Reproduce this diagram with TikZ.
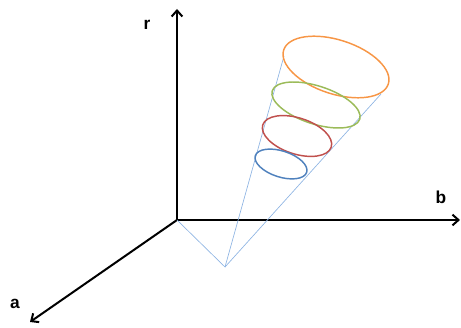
\documentclass[tikz,border=0pt]{standalone}
\usepackage{fontspec}
\setsansfont{Liberation Sans}
\usetikzlibrary{arrows.meta}
\definecolor{conelin}{HTML}{8EB4E3}
\definecolor{orng}   {HTML}{F79646}
\definecolor{grn}    {HTML}{9BBB59}
\definecolor{rd}     {HTML}{C0504D}
\definecolor{blu}    {HTML}{4F81BD}

\begin{document}
\begin{tikzpicture}[x=0.75pt,y=0.75pt,
    axis/.style={line width=1.5pt,-{Straight Barb[length=4.5pt,width=8pt]}},
    lbl/.style={font=\sffamily\bfseries\fontsize{13}{15}\selectfont,inner sep=0pt},
    ring/.style={line width=1.1pt,draw=#1}]
  \useasboundingbox (0,0) rectangle (461,328);
  % axes
  \coordinate (O)    at (177,108);
  \coordinate (rtip) at (177,319);
  \coordinate (btip) at (460,108);
  \coordinate (atip) at (30,6);
  \draw[axis] (O) -- (rtip);
  \draw[axis] (O) -- (btip);
  \draw[axis] (O) -- (atip);
  \node[lbl] (rlab) at (147,303) {r};
  \node[lbl] (blab) at (441,131) {b};
  \node[lbl] (alab) at (15,24) {a};
  % cone
  \coordinate (apex)  at (225,61);
  \coordinate (cleft) at (284,272);
  \coordinate (crght) at (381,234);
  \draw[conelin,line width=0.5pt] (O) -- (apex) -- (cleft);
  \draw[conelin,line width=0.5pt] (apex) -- (crght);
  % rings
  \draw[ring=orng,rotate around={-18:(336,261)}] (336,261) ellipse (55 and 27);
  \draw[ring=grn,rotate around={-18:(316,223)}] (316,223) ellipse (46 and 19);
  \draw[ring=rd,rotate around={-18:(297,192)}] (297,192) ellipse (36 and 18);
  \draw[ring=blu,rotate around={-18:(281,164)}] (281,164) ellipse (27 and 13);
\end{tikzpicture}
\end{document}
